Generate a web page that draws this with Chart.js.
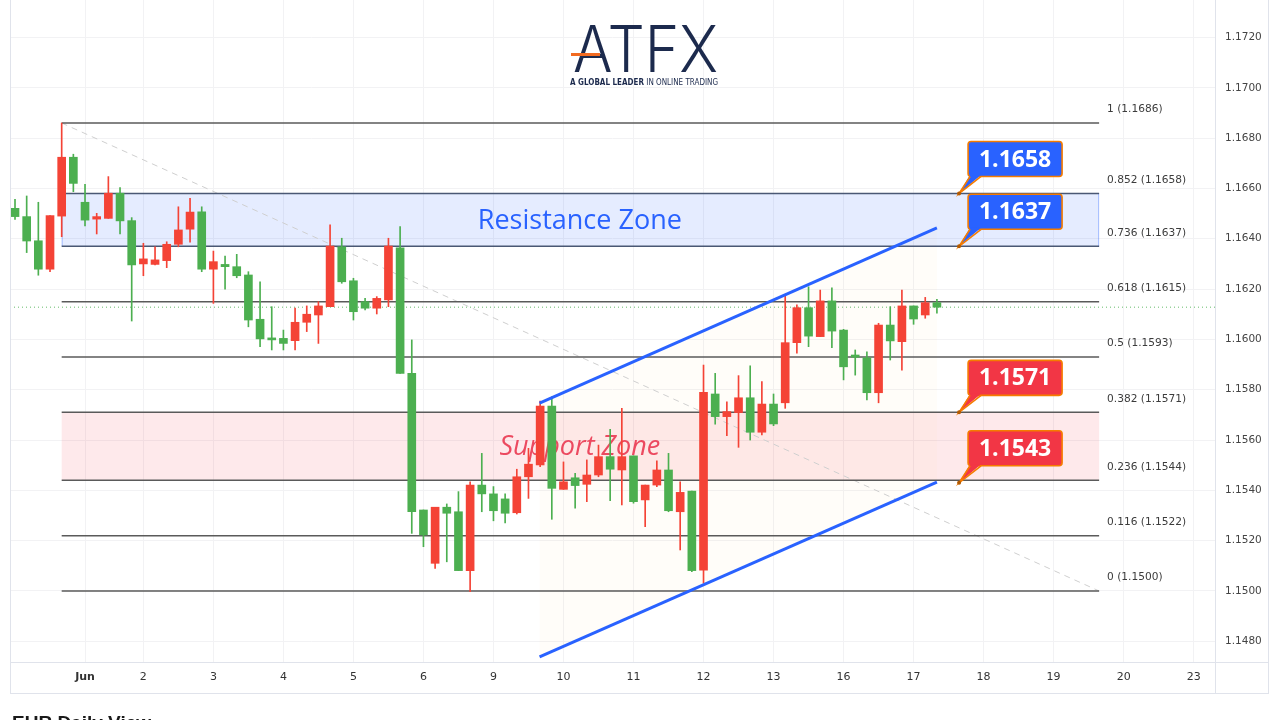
<!DOCTYPE html>
<html>
<head>
<meta charset="utf-8">
<title>EURUSD 4H – Fibonacci, Resistance &amp; Support Zones</title>
<script src="https://cdn.jsdelivr.net/npm/chart.js@4.4.1/dist/chart.umd.min.js"></script>
<style>
html,body{margin:0;padding:0;background:#ffffff;overflow:hidden;}
#box{position:relative;width:1280px;height:720px;}
canvas{position:absolute;left:0;top:0;}
.ln{position:absolute;background:#e0e3eb;pointer-events:none;}
</style>
</head>
<body>
<div id="box">
  <canvas id="chart" width="1280" height="720"></canvas>
  <div class="ln" style="left:10px;top:0;width:1px;height:694px;"></div>
  <div class="ln" style="left:1268px;top:0;width:1px;height:694px;"></div>
  <div class="ln" style="left:10px;top:693px;width:1259px;height:1px;"></div>
  <div class="ln" style="left:1215px;top:0;width:1px;height:694px;"></div>
  <div class="ln" style="left:10px;top:662px;width:1259px;height:1px;"></div>
</div>
<script>
// ---------- candle data (4H candles, index 1..80) ----------
const opens = [1.16521,1.16488,1.16392,1.16279,1.16490,1.16724,1.16545,1.16478,1.16481,1.16581,
  1.16472,1.16300,1.16298,1.16313,1.16378,1.16438,1.16507,1.16279,1.16298,1.16289,
  1.16256,1.16080,1.16004,1.16004,1.15995,1.16068,1.16097,1.16130,1.16368,1.16233,
  1.16150,1.16124,1.16157,1.16364,1.15865,1.15322,1.15110,1.15333,1.15315,1.15081,
  1.15421,1.15386,1.15366,1.15311,1.15454,1.15501,1.15735,1.15404,1.15450,1.15424,
  1.15461,1.15534,1.15481,1.15537,1.15362,1.15421,1.15481,1.15315,1.15397,1.15083,
  1.15783,1.15693,1.15709,1.15768,1.15631,1.15743,1.15748,1.15987,1.16126,1.16011,
  1.16153,1.16037,1.15938,1.15927,1.15788,1.16057,1.15991,1.16133,1.16097,1.16146];
const highs = [1.16557,1.16570,1.16545,1.16492,1.16860,1.16736,1.16616,1.16501,1.16647,1.16603,
  1.16484,1.16382,1.16368,1.16388,1.16527,1.16561,1.16527,1.16351,1.16331,1.16338,
  1.16269,1.16229,1.16130,1.16037,1.16124,1.16133,1.16150,1.16455,1.16402,1.16243,
  1.16163,1.16170,1.16402,1.16448,1.15998,1.15322,1.15333,1.15346,1.15395,1.15434,
  1.15547,1.15415,1.15386,1.15484,1.15567,1.15755,1.15772,1.15513,1.15468,1.15521,
  1.15580,1.15643,1.15726,1.15537,1.15421,1.15517,1.15547,1.15434,1.15397,1.15898,
  1.15865,1.15752,1.15856,1.15895,1.15832,1.15783,1.16176,1.16137,1.16209,1.16196,
  1.16205,1.16040,1.15958,1.15951,1.16064,1.16130,1.16196,1.16133,1.16167,1.16159];
const lows = [1.16477,1.16345,1.16255,1.16269,1.16408,1.16587,1.16451,1.16419,1.16481,1.16419,
  1.16073,1.16253,1.16296,1.16285,1.16368,1.16386,1.16269,1.16143,1.16200,1.16245,
  1.16050,1.15971,1.15958,1.15958,1.15958,1.16031,1.15984,1.16130,1.16223,1.16077,
  1.16117,1.16101,1.16130,1.15865,1.15229,1.15176,1.15090,1.15116,1.15081,1.14997,
  1.15315,1.15279,1.15271,1.15306,1.15368,1.15494,1.15285,1.15404,1.15329,1.15355,
  1.15454,1.15359,1.15342,1.15349,1.15256,1.15415,1.15315,1.15163,1.15077,1.15031,
  1.15663,1.15617,1.15571,1.15600,1.15620,1.15657,1.15726,1.15945,1.15971,1.16011,
  1.15967,1.15839,1.15858,1.15759,1.15748,1.15918,1.15878,1.16060,1.16084,1.16104];
const closes = [1.16488,1.16391,1.16279,1.16492,1.16724,1.16620,1.16474,1.16488,1.16581,1.16471,
  1.16296,1.16320,1.16316,1.16378,1.16435,1.16506,1.16279,1.16309,1.16289,1.16253,
  1.16077,1.16002,1.15998,1.15984,1.16068,1.16100,1.16133,1.16371,1.16229,1.16110,
  1.16124,1.16163,1.16371,1.15865,1.15315,1.15223,1.15333,1.15309,1.15081,1.15421,
  1.15386,1.15319,1.15309,1.15454,1.15504,1.15735,1.15408,1.15434,1.15419,1.15461,
  1.15534,1.15484,1.15534,1.15355,1.15421,1.15481,1.15319,1.15392,1.15081,1.15790,
  1.15693,1.15713,1.15768,1.15631,1.15743,1.15664,1.15987,1.16126,1.16013,1.16153,
  1.16033,1.15891,1.15929,1.15788,1.16057,1.15994,1.16133,1.16081,1.16146,1.16128];
const candleIdx = opens.map((_, k) => k + 1);

// ---------- axes ----------
const dayTickIdx    = [7, 12, 18, 24, 30, 36, 42, 48, 54, 60, 66, 72, 78, 84, 90, 96, 102];
const dayTickLabels = ['Jun','2','3','4','5','6','9','10','11','12','13','16','17','18','19','20','23'];
const priceTicks = [1.1480,1.1500,1.1520,1.1540,1.1560,1.1580,1.1600,1.1620,1.1640,1.1660,1.1680,1.1700,1.1720];
const xMin = 0.571, xMax = 103.83;
const yMin = 1.147178, yMax = 1.173489;

// ---------- Fibonacci retracement ----------
const fibRatios = ['1','0.852','0.736','0.618','0.5','0.382','0.236','0.116','0'];
const fibPrices = [1.1686,1.1658,1.1637,1.1615,1.1593,1.1571,1.1544,1.1522,1.1500];
const fibStart = 5, fibEnd = 93.9;

// ---------- zones ----------
const zoneNames = ['Resistance Zone','Support Zone'];
const zoneHigh  = [1.1658, 1.1571];
const zoneLow   = [1.1637, 1.1544];
const zoneTextIdx = 49.4;

// ---------- rising channel ----------
const channelX     = [45.95, 80.0];
const channelUpper = [1.15747, 1.16443];
const channelLower = [1.14738, 1.15433];

// ---------- fib trend (dashed) ----------
const trendX = [5, 93.9];
const trendY = [1.1686, 1.1500];

// ---------- price callouts ----------
const calloutIdx    = 81.9;
const calloutValues = [1.1658, 1.1637, 1.1571, 1.1543];
const calloutKinds  = ['res','res','sup','sup'];

// ---------- styles ----------
const UP = '#f44336', DOWN = '#4caf50';
const candleColors = candleIdx.map((_, k) => closes[k] > opens[k] ? UP : DOWN);
const lastClose = closes[closes.length - 1];

const lineDs = (xs, ys, color, width, dash, order) => ({
  type: 'line',
  data: xs.map((v, i) => ({ x: v, y: ys[i] })),
  borderColor: color, borderWidth: width, borderDash: dash || [],
  pointRadius: 0, fill: false, tension: 0, order: order
});

const datasets = [];
fibPrices.forEach((p, i) => {
  const col = (fibRatios[i] === '0.852' || fibRatios[i] === '0.736') ? '#4a5874' : '#5a5a5a';
  datasets.push(lineDs([fibStart, fibEnd], [p, p], col, 1.5, null, 6));
});
datasets.push(lineDs(trendX, trendY, '#cfcfcf', 1, [6, 5], 8));
datasets.push(lineDs([xMin, xMax], [lastClose, lastClose], '#66bb6a', 1, [1, 3], 7));
datasets.push({
  type: 'bar', label: 'wick',
  data: candleIdx.map((v, k) => ({ x: v, y: [lows[k], highs[k]] })),
  backgroundColor: candleColors, borderWidth: 0, barThickness: 1, grouped: false, order: 3
});
datasets.push({
  type: 'bar', label: 'body',
  data: candleIdx.map((v, k) => ({ x: v, y: [opens[k], closes[k]] })),
  backgroundColor: candleColors, borderWidth: 0, barThickness: 8, minBarLength: 2, grouped: false, order: 2
});
datasets.push(lineDs(channelX, channelUpper, '#2962ff', 3, null, 0));
datasets.push(lineDs(channelX, channelLower, '#2962ff', 3, null, 0));

function roundRect(ctx, x, y, w, h, r) {
  ctx.beginPath();
  ctx.moveTo(x + r, y);
  ctx.arcTo(x + w, y, x + w, y + h, r);
  ctx.arcTo(x + w, y + h, x, y + h, r);
  ctx.arcTo(x, y + h, x, y, r);
  ctx.arcTo(x, y, x + w, y, r);
  ctx.closePath();
}

const overlay = {
  id: 'overlay',
  beforeDatasetsDraw(chart) {
    const { ctx, chartArea: a, scales: { x, y } } = chart;
    ctx.save();
    ctx.beginPath(); ctx.rect(a.left, a.top, a.width, a.height); ctx.clip();
    const x0 = x.getPixelForValue(fibStart), x1 = x.getPixelForValue(fibEnd);
    ctx.beginPath();
    ctx.moveTo(x.getPixelForValue(channelX[0]), y.getPixelForValue(channelUpper[0]));
    ctx.lineTo(x.getPixelForValue(channelX[1]), y.getPixelForValue(channelUpper[1]));
    ctx.lineTo(x.getPixelForValue(channelX[1]), y.getPixelForValue(channelLower[1]));
    ctx.lineTo(x.getPixelForValue(channelX[0]), y.getPixelForValue(channelLower[0]));
    ctx.closePath();
    ctx.fillStyle = 'rgba(255,200,120,0.045)';
    ctx.fill();
    zoneNames.forEach((name, i) => {
      const yt = y.getPixelForValue(zoneHigh[i]), yb = y.getPixelForValue(zoneLow[i]);
      const res = i === 0;
      ctx.fillStyle = res ? 'rgba(41,98,255,0.12)' : 'rgba(242,54,69,0.11)';
      ctx.fillRect(x0, yt, x1 - x0, yb - yt);
      if (res) {
        ctx.strokeStyle = 'rgba(41,98,255,0.35)'; ctx.lineWidth = 1;
        ctx.beginPath();
        ctx.moveTo(x0 + 0.5, yt); ctx.lineTo(x0 + 0.5, yb);
        ctx.moveTo(x1 - 0.5, yt); ctx.lineTo(x1 - 0.5, yb);
        ctx.stroke();
      }
      const cx = x.getPixelForValue(zoneTextIdx), cy = y.getPixelForValue((zoneHigh[i] + zoneLow[i]) / 2);
      ctx.textAlign = 'center'; ctx.textBaseline = 'middle';
      ctx.font = res ? '27px "Open Sans"' : 'italic 27px "Open Sans"';
      ctx.fillStyle = res ? '#2962ff' : '#ec4a60';
      ctx.fillText(name, cx, cy + 1);
    });
    ctx.restore();
  },
  afterDatasetsDraw(chart) {
    const { ctx, scales: { x, y } } = chart;
    ctx.save();
    const lx = x.getPixelForValue(fibEnd) + 8;
    ctx.font = '10.6px "DejaVu Sans"'; ctx.fillStyle = '#3c3c3c';
    ctx.textAlign = 'left'; ctx.textBaseline = 'middle';
    fibPrices.forEach((p, i) => {
      ctx.fillText(fibRatios[i] + ' (' + p.toFixed(4) + ')', lx, y.getPixelForValue(p) - 13.5);
    });
    calloutValues.forEach((v, i) => {
      const ax = x.getPixelForValue(calloutIdx), ay = y.getPixelForValue(v);
      const bw = 94, bh = 35, bx = ax + 9, by = ay - 17 - bh;
      const fill = calloutKinds[i] === 'res' ? '#2962ff' : '#f23645';
      roundRect(ctx, bx, by, bw, bh, 3);
      ctx.fillStyle = fill; ctx.fill();
      ctx.strokeStyle = '#f57c00'; ctx.lineWidth = 1.6; ctx.stroke();
      ctx.beginPath();
      ctx.moveTo(bx + 2, by + bh - 1.5); ctx.lineTo(ax, ay); ctx.lineTo(bx + 13, by + bh - 1.5); ctx.closePath();
      ctx.fillStyle = fill; ctx.fill();
      ctx.beginPath();
      ctx.moveTo(bx + 2, by + bh); ctx.lineTo(ax, ay); ctx.lineTo(bx + 13, by + bh);
      ctx.strokeStyle = '#f57c00'; ctx.lineWidth = 1.6; ctx.stroke();
      ctx.beginPath(); ctx.arc(ax, ay, 2, 0, Math.PI * 2); ctx.fillStyle = '#b35a00'; ctx.fill();
      ctx.font = 'bold 23px "Open Sans"'; ctx.fillStyle = '#ffffff';
      ctx.textAlign = 'center'; ctx.textBaseline = 'middle';
      ctx.fillText(v.toFixed(4), bx + bw / 2, by + bh / 2 + 1);
    });
    ctx.restore();
  },
  afterDraw(chart) {
    const ctx = chart.ctx;
    ctx.save();
    ctx.font = '300 64px Inter';
    const tw = ctx.measureText('ATFX').width;
    ctx.fillStyle = '#1c2a4d'; ctx.textBaseline = 'alphabetic'; ctx.textAlign = 'left';
    ctx.save(); ctx.translate(573, 72); ctx.scale(145 / tw, 1); ctx.fillText('ATFX', 0, 0); ctx.restore();
    ctx.fillStyle = '#f26b21'; ctx.fillRect(571, 53, 29, 3);
    const s1 = 'A GLOBAL LEADER', s2 = ' IN ONLINE TRADING';
    ctx.font = 'bold 8px "DejaVu Sans"'; const w1 = ctx.measureText(s1).width;
    ctx.font = '8px "DejaVu Sans"'; const w2 = ctx.measureText(s2).width;
    ctx.save(); ctx.translate(570, 85); ctx.scale(148 / (w1 + w2), 1);
    ctx.fillStyle = '#1c2a4d';
    ctx.font = 'bold 8px "DejaVu Sans"'; ctx.fillText(s1, 0, 0);
    ctx.font = '8px "DejaVu Sans"'; ctx.fillText(s2, w1, 0);
    ctx.restore();
    ctx.font = 'bold 19px "Liberation Sans"'; ctx.fillStyle = '#1a1a1a';
    ctx.fillText('EUR Daily View', 12, 729);
    ctx.restore();
  }
};

new Chart(document.getElementById('chart'), {
  type: 'bar',
  data: { datasets },
  options: {
    responsive: false, animation: false, devicePixelRatio: 1,
    layout: { padding: { left: 10, top: 0, right: 12, bottom: 27 } },
    plugins: { legend: { display: false }, tooltip: { enabled: false } },
    scales: {
      x: {
        type: 'linear', min: xMin, max: xMax, offset: false,
        afterFit(s) { s.height = 31; s.paddingLeft = 0; s.paddingRight = 0; },
        afterBuildTicks(s) { s.ticks = dayTickIdx.map(v => ({ value: v })); },
        ticks: {
          autoSkip: false, maxRotation: 0, padding: 9, color: '#333',
          font: (c) => ({ family: 'DejaVu Sans', size: 11, weight: (c.tick && c.tick.value === dayTickIdx[0]) ? 'bold' : 'normal' }),
          callback: (v) => dayTickLabels[dayTickIdx.indexOf(v)]
        },
        grid: { color: '#f2f2f4', drawTicks: false, offset: false },
        border: { display: false }
      },
      y: {
        type: 'linear', position: 'right', min: yMin, max: yMax,
        afterFit(s) { s.width = 53; s.paddingTop = 0; s.paddingBottom = 0; },
        afterBuildTicks(s) { s.ticks = priceTicks.map(v => ({ value: v })); },
        ticks: {
          autoSkip: false, padding: 10, color: '#444',
          font: { family: 'DejaVu Sans', size: 10.5 },
          callback: (v) => Number(v).toFixed(4)
        },
        grid: { color: '#f2f2f4', drawTicks: false },
        border: { display: false }
      }
    }
  },
  plugins: [overlay]
});
</script>
</body>
</html>
